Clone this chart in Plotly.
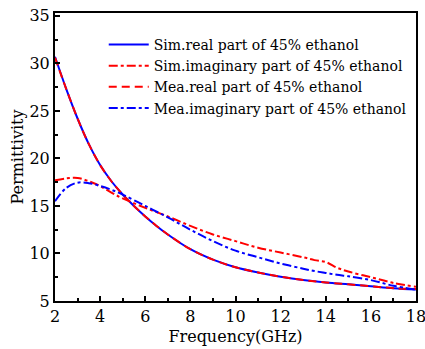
import plotly.graph_objects as go

# Frequency grids (GHz)
freq_real = [2, 2.5, 3, 3.5, 4, 4.5, 5, 5.5, 6, 6.5, 7, 8, 9, 10, 11, 12, 13, 14, 15, 16, 17, 18]
sim_real = [30.7, 27.3, 24.2, 21.5, 19.3, 17.6, 16.2, 15.0, 13.9, 12.9, 12.0, 10.45, 9.35, 8.55, 8.0, 7.55, 7.2, 6.95, 6.75, 6.55, 6.35, 6.2]
mea_real = [30.6, 27.3, 24.2, 21.5, 19.3, 17.6, 16.2, 15.0, 13.9, 12.9, 12.0, 10.45, 9.35, 8.55, 8.0, 7.55, 7.2, 6.95, 6.75, 6.55, 6.35, 6.25]

freq_imag = [2, 2.5, 3, 3.5, 4, 4.5, 5, 6, 7, 8, 9, 10, 11, 12, 13, 13.5, 14, 14.5, 15, 16, 17, 18]
sim_imag = [17.7, 17.9, 17.95, 17.6, 17.1, 16.4, 15.8, 14.8, 13.9, 12.9, 12.0, 11.3, 10.6, 10.1, 9.6, 9.3, 9.1, 8.5, 8.1, 7.5, 6.9, 6.5]
mea_imag = [15.5, 16.9, 17.45, 17.4, 17.1, 16.7, 16.2, 15.0, 13.8, 12.5, 11.3, 10.3, 9.6, 8.95, 8.4, 8.15, 7.95, 7.75, 7.6, 7.2, 6.6, 6.2]

x_ticks = [2, 4, 6, 8, 10, 12, 14, 16, 18]
y_ticks = [5, 10, 15, 20, 25, 30, 35]

names = ["Sim.real part of 45% ethanol", "Sim.imaginary part of 45% ethanol",
         "Mea.real part of 45% ethanol", "Mea.imaginary part of 45% ethanol"]

fig = go.Figure()
fig.add_trace(go.Scatter(x=freq_real, y=sim_real, mode="lines", name=names[0],
                         line=dict(color="#0000FF", width=2, shape="spline")))
fig.add_trace(go.Scatter(x=freq_imag, y=sim_imag, mode="lines", name=names[1],
                         line=dict(color="#FF0000", width=2, dash="dashdot", shape="spline")))
fig.add_trace(go.Scatter(x=freq_real, y=mea_real, mode="lines", name=names[2],
                         line=dict(color="#FF0000", width=2, dash="8px,5px", shape="spline")))
fig.add_trace(go.Scatter(x=freq_imag, y=mea_imag, mode="lines", name=names[3],
                         line=dict(color="#0000FF", width=2, dash="dashdot", shape="spline")))

font = "DejaVu Serif, serif"
axis_common = dict(showline=True, linecolor="black", linewidth=2, mirror=True,
                   ticks="inside", ticklen=5, tickwidth=1.5, tickcolor="black",
                   showgrid=False, zeroline=False, ticklabeloverflow="allow",
                   tickfont=dict(family=font, size=16, color="black"))

fig.update_xaxes(range=[2, 18], tickvals=x_ticks,
                 minor=dict(ticks="inside", ticklen=3, tickwidth=1.5, tickcolor="black", dtick=1),
                 title=dict(text="Frequency(GHz)", font=dict(family=font, size=16, color="black"), standoff=6),
                 **axis_common)
fig.update_yaxes(range=[5, 35.3], tickvals=y_ticks,
                 minor=dict(ticks="inside", ticklen=3, tickwidth=1.5, tickcolor="black", dtick=2.5),
                 title=dict(text="Permittivity", font=dict(family=font, size=16, color="black"), standoff=2),
                 **axis_common)

fig.update_layout(
    width=425, height=349,
    margin=dict(l=55, r=9, t=13, b=48, autoexpand=False),
    paper_bgcolor="white", plot_bgcolor="white",
    font=dict(family=font),
    showlegend=True,
    legend=dict(x=0.135, y=0.945, xanchor="left", yanchor="top",
                bgcolor="rgba(0,0,0,0)", borderwidth=0,
                font=dict(family=font, size=14, color="black"),
                itemwidth=40, tracegroupgap=0),
)

fig.write_html("out.html")
